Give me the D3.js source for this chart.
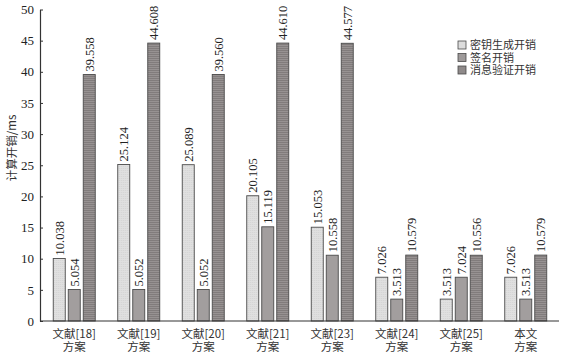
<!DOCTYPE html>
<html lang="zh">
<head>
<meta charset="UTF-8">
<title>计算开销</title>
<script src="https://d3js.org/d3.v7.min.js"></script>
<style>
  body { margin: 0; background: #fff; }
</style>
</head>
<body>
<svg width="567" height="354"></svg>
<script>
    // data
    var schemes = ["文献[18]", "文献[19]", "文献[20]", "文献[21]", "文献[23]", "文献[24]", "文献[25]", "本文"];
    var keyGen = [10.038, 25.124, 25.089, 20.105, 15.053, 7.026, 3.513, 7.026];
    var signCost = [5.054, 5.052, 5.052, 15.119, 10.558, 3.513, 7.024, 3.513];
    var verifyCost = [39.558, 44.608, 39.560, 44.610, 44.577, 10.579, 10.556, 10.579];
    var seriesNames = ["密钥生成开销", "签名开销", "消息验证开销"];
    var yTicks = [0, 5, 10, 15, 20, 25, 30, 35, 40, 45, 50];

    var serif = "'Liberation Serif', 'DejaVu Serif', serif";
    var cjk = "'Noto Sans CJK SC', sans-serif";

    var svg = d3.select("svg");

    var defs = svg.append("defs");
    var p1 = defs.append("pattern").attr("id", "dots").attr("width", 2).attr("height", 2)
        .attr("patternUnits", "userSpaceOnUse");
    p1.append("rect").attr("width", 2).attr("height", 2).attr("fill", "#e0e0e0");
    p1.append("rect").attr("width", 1).attr("height", 1).attr("fill", "#d2d2d2");
    var p3 = defs.append("pattern").attr("id", "stripes").attr("width", 3).attr("height", 2)
        .attr("patternUnits", "userSpaceOnUse");
    p3.append("rect").attr("width", 3).attr("height", 2).attr("fill", "#979292");
    p3.append("rect").attr("width", 3).attr("height", 1).attr("fill", "#817c7c");

    var fills = ["url(#dots)", "#a29e9e", "url(#stripes)"];
    var legendFills = ["#dcdcdc", "#9e9a9a", "#8f8a8a"];

    var data = schemes.map(function (s, i) {
        return {name: s, values: [keyGen[i], signCost[i], verifyCost[i]]};
    });

    var x0 = d3.scaleBand().domain(schemes).range([42, 558]);
    var x1 = d3.scaleBand().domain([0, 1, 2]).range([-21, 21]).paddingInner(0.2);
    var y = d3.scaleLinear().domain([0, 50]).range([321, 9.5]);

    // bars
    var groups = svg.append("g").selectAll("g")
        .data(data)
        .enter().append("g")
        .attr("transform", function (d) {
            return "translate(" + (x0(d.name) + x0.bandwidth() / 2) + ",0)";
        });

    groups.selectAll("rect")
        .data(function (d) { return d.values.map(function (v, k) { return {k: k, v: v}; }); })
        .enter().append("rect")
        .attr("x", function (d) { return x1(d.k); })
        .attr("y", function (d) { return y(d.v); })
        .attr("width", x1.bandwidth())
        .attr("height", function (d) { return y(0) - y(d.v); })
        .attr("fill", function (d) { return fills[d.k]; })
        .attr("stroke", "#4a4a4a")
        .attr("stroke-width", 0.9);

    groups.selectAll("text.val")
        .data(function (d) { return d.values.map(function (v, k) { return {k: k, v: v}; }); })
        .enter().append("text")
        .attr("class", "val")
        .attr("transform", function (d) {
            return "translate(" + (x1(d.k) + x1.bandwidth() / 2 + 4.5) + "," + (y(d.v) - 3) + ") rotate(-90)";
        })
        .attr("font-family", serif)
        .attr("font-size", 12.5)
        .attr("fill", "#222")
        .text(function (d) { return d3.format(".3f")(d.v); });

    // y axis
    var yAxis = svg.append("g")
        .attr("transform", "translate(40,0)")
        .call(d3.axisLeft(y).tickValues(yTicks).tickSizeInner(-3).tickSizeOuter(0).tickPadding(6));
    yAxis.select(".domain").attr("stroke", "#333").attr("stroke-width", 1.2);
    yAxis.selectAll(".tick line").attr("stroke", "#333");
    yAxis.selectAll("text").attr("font-family", serif).attr("font-size", 13).attr("fill", "#222");

    // x axis line
    svg.append("line")
        .attr("x1", 40).attr("x2", 559)
        .attr("y1", y(0)).attr("y2", y(0))
        .attr("stroke", "#333").attr("stroke-width", 1.2);

    // x labels
    var xl = svg.append("g").selectAll("text")
        .data(schemes)
        .enter().append("text")
        .attr("x", function (d) { return x0(d) + x0.bandwidth() / 2; })
        .attr("y", 338)
        .attr("text-anchor", "middle")
        .attr("font-family", cjk)
        .attr("font-size", 11.5)
        .attr("fill", "#333");
    xl.append("tspan").attr("x", function (d) { return x0(d) + x0.bandwidth() / 2; })
        .text(function (d) { return d; });
    xl.append("tspan").attr("x", function (d) { return x0(d) + x0.bandwidth() / 2; })
        .attr("dy", 13).text("方案");

    // y label
    svg.append("text")
        .attr("transform", "translate(16,148) rotate(-90)")
        .attr("text-anchor", "middle")
        .attr("font-family", cjk)
        .attr("font-size", 11.5)
        .attr("fill", "#333")
        .text("计算开销/ms");

    // legend
    var legend = svg.append("g").selectAll("g")
        .data(seriesNames)
        .enter().append("g")
        .attr("transform", function (d, i) { return "translate(458," + (41 + i * 12.5) + ")"; });
    legend.append("rect")
        .attr("width", 8).attr("height", 8)
        .attr("fill", function (d, i) { return legendFills[i]; })
        .attr("stroke", "#4a4a4a").attr("stroke-width", 0.8);
    legend.append("text")
        .attr("x", 12).attr("y", 8)
        .attr("font-family", cjk)
        .attr("font-size", 11)
        .attr("fill", "#333")
        .text(function (d) { return d; });
</script>
</body>
</html>
